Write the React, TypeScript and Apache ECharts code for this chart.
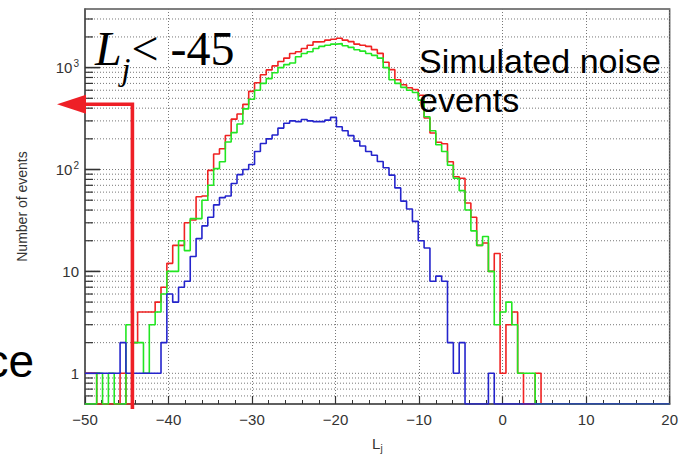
import React, { useEffect, useRef } from "react";
import * as echarts from "echarts";

// ---- data ----
const BIN_START = -50;
const BIN_WIDTH = 0.7;
const Y_MIN = 0.5;
const Y_MAX = 3760;

const redCounts = [
  1, 1, 0, 0, 0, 0, 1, 0, 2, 4,
  4, 4, 5, 7, 12, 18, 18, 30, 32, 54,
  55, 98, 142, 160, 216, 312, 350, 436, 585, 710,
  850, 950, 1040, 1150, 1240, 1375, 1430, 1540, 1660, 1790,
  1800, 1860, 1900, 1940, 1860, 1800, 1700, 1660, 1615, 1500,
  1380, 1130, 955, 760, 680, 635, 610, 535, 320, 228,
  185, 179, 119, 85, 82, 47, 34, 18, 19, 10,
  15, 1, 3, 4, 1, 0, 0, 1, 0, 0,
  0, 0, 0, 0, 0, 0, 0, 0, 0, 0,
  0, 0, 0, 0, 0, 0, 0, 0, 0, 0,
];

const greenCounts = [
  0, 0, 1, 0, 1, 0, 0, 3, 2, 2,
  1, 3, 4, 6, 10, 10, 20, 16, 33, 33,
  50, 70, 102, 119, 186, 230, 280, 394, 490, 600,
  700, 780, 890, 1000, 1070, 1110, 1280, 1375, 1430, 1540,
  1615, 1660, 1700, 1720, 1640, 1580, 1495, 1450, 1375, 1320,
  1240, 1000, 760, 700, 640, 600, 570, 480, 330, 240,
  175, 150, 110, 82, 62, 40, 25, 18, 22, 10,
  3, 4, 5, 3, 1, 1, 1, 0, 0, 0,
  0, 0, 0, 0, 0, 0, 0, 0, 0, 0,
  0, 0, 0, 0, 0, 0, 0, 0, 0, 0,
];

const blueCounts = [
  1, 1, 1, 1, 1, 1, 2, 1, 1, 1,
  1, 1, 1, 2, 6, 5, 7, 8, 14, 21,
  28, 34, 45, 53, 55, 73, 89, 100, 112, 150,
  180, 200, 218, 255, 284, 300, 295, 310, 300, 295,
  295, 305, 325, 263, 240, 215, 190, 170, 150, 138,
  120, 104, 88, 66, 49, 41, 31, 20, 17, 8,
  9, 8, 2, 1, 2, 0, 0, 0, 0, 1,
  0, 0, 0, 0, 0, 0, 0, 0, 0, 0,
  0, 0, 0, 0, 0, 0, 0, 0, 0, 0,
  0, 0, 0, 0, 0, 0, 0, 0, 0, 0,
];

const yGridValues = [
  0.6, 0.7, 0.8, 0.9,
  1, 2, 3, 4, 5, 6, 7, 8, 9,
  10, 20, 30, 40, 50, 60, 70, 80, 90,
  100, 200, 300, 400, 500, 600, 700, 800, 900,
  1000, 2000, 3000,
];

const yTickLabels: Record<number, string> = {
  1: "{b|1}",
  10: "{b|10}",
  100: "{b|10}{s|2}",
  1000: "{b|10}{s|3}",
};

const xTitle = "{l|L}{s|j}";
const yTitle = "Number of events";
const cutLabel = { main: "L", sub: "j", rest: "< -45" };
const noteLines = ["Simulated noise", "events"];
const leftFragment = "ce";

function histData(counts: number[]) {
  const pts: number[][] = counts.map((c, i) => [
    +(BIN_START + i * BIN_WIDTH).toFixed(3),
    c > 0 ? c : Y_MIN,
  ]);
  const last = counts[counts.length - 1];
  pts.push([+(BIN_START + counts.length * BIN_WIDTH).toFixed(3), last > 0 ? last : Y_MIN]);
  return pts;
}

const FONT = "'Liberation Sans', Arial, Helvetica, sans-serif";
const SERIF = "'Liberation Serif', 'Times New Roman', serif";
const ARROW_RED = "#ee1f26";
const LABEL = "#333";

export default function App() {
  const ref = useRef<HTMLDivElement>(null);

  useEffect(() => {
    if (!ref.current) return;
    const chart = echarts.init(ref.current, undefined, { renderer: "svg" });

    const histSeries = (name: string, counts: number[], color: string, z: number) => ({
      name,
      type: "line",
      step: "end",
      data: histData(counts),
      symbol: "none",
      lineStyle: { color, width: 1.6 },
      z,
      silent: true,
    });

    chart.setOption({
      animation: false,
      backgroundColor: "#ffffff",
      grid: {
        left: 85,
        right: 9,
        top: 9,
        bottom: 49,
        show: true,
        borderColor: "#555",
        borderWidth: 1.5,
        backgroundColor: "transparent",
      },
      xAxis: {
        type: "value",
        min: -50,
        max: 20,
        interval: 10,
        name: xTitle,
        nameLocation: "middle",
        nameGap: 29,
        nameTextStyle: {
          rich: {
            l: { fontSize: 15, fontFamily: FONT, color: LABEL },
            s: { fontSize: 10, fontFamily: FONT, color: LABEL, padding: [10, 0, 0, 0] },
          },
        },
        axisLine: { show: true, onZero: false, lineStyle: { color: "#555", width: 1.5 } },
        axisTick: { show: true, inside: true, length: 8, lineStyle: { color: "#333", width: 1.2 } },
        minorTick: { show: true, splitNumber: 5, length: 4, lineStyle: { color: "#333", width: 1 } },
        axisLabel: {
          fontSize: 15,
          fontFamily: FONT,
          color: LABEL,
          margin: 8,
          formatter: (v: number) => (v < 0 ? "\u2212" + Math.abs(v) : String(v)),
        },
        splitLine: { show: true, lineStyle: { color: "#777", width: 1, type: [1, 2] } },
      },
      yAxis: {
        type: "log",
        logBase: 10,
        min: Y_MIN,
        max: Y_MAX,
        name: yTitle,
        nameLocation: "middle",
        nameGap: 56,
        nameRotate: 90,
        nameTextStyle: { fontSize: 14, fontFamily: FONT, color: LABEL },
        axisLine: { show: true, onZero: false, lineStyle: { color: "#555", width: 1.5 } },
        axisTick: { show: false },
        splitLine: { show: false },
        axisLabel: {
          margin: 6,
          showMinLabel: false,
          showMaxLabel: false,
          formatter: (v: number) => yTickLabels[Math.round(v)] ?? "",
          rich: {
            b: { fontSize: 15, fontFamily: FONT, color: LABEL },
            s: { fontSize: 10, fontFamily: FONT, color: LABEL, padding: [0, 0, 9, 1] },
          },
        },
      },
      series: [
        {
          type: "custom",
          silent: true,
          z: 1,
          data: yGridValues.map((v) => [BIN_START, v]),
          renderItem: (params: any, api: any) => {
            const v = api.value(1);
            const p = api.coord([api.value(0), v]);
            const cs = params.coordSys;
            const lg = Math.log10(v);
            const major = Math.abs(lg - Math.round(lg)) < 1e-6;
            return {
              type: "group",
              children: [
                {
                  type: "line",
                  shape: { x1: cs.x, y1: p[1], x2: cs.x + cs.width, y2: p[1] },
                  style: { stroke: "#777", lineWidth: 1, lineDash: [1, 2] },
                },
                {
                  type: "line",
                  shape: { x1: cs.x, y1: p[1], x2: cs.x + (major ? 15 : 8), y2: p[1] },
                  style: { stroke: "#333", lineWidth: major ? 1.6 : 1.2 },
                },
              ],
            };
          },
        },
        histSeries("red", redCounts, "#f02222", 3),
        histSeries("green", greenCounts, "#22e622", 4),
        histSeries("blue", blueCounts, "#2424cc", 5),
      ],
      graphic: [
        {
          type: "polygon",
          z: 100,
          shape: { points: [[57, 104.3], [86, 94.8], [86, 113.8]] },
          style: { fill: ARROW_RED },
        },
        {
          type: "polyline",
          z: 100,
          shape: { points: [[85, 104.3], [132.4, 104.3], [132.4, 409]] },
          style: { stroke: ARROW_RED, lineWidth: 3.6, fill: null },
        },
        {
          type: "text",
          z: 100,
          x: 95,
          y: 48.5,
          style: {
            text: cutLabel.main,
            font: `italic 48px ${SERIF}`,
            fill: "#000",
            align: "left",
            verticalAlign: "middle",
          },
        },
        {
          type: "text",
          z: 100,
          x: 121.5,
          y: 69,
          style: {
            text: cutLabel.sub,
            font: `italic 32px ${SERIF}`,
            fill: "#000",
            align: "left",
            verticalAlign: "middle",
          },
        },
        {
          type: "text",
          z: 100,
          x: 131.5,
          y: 48.5,
          style: {
            text: cutLabel.rest,
            font: `48px ${SERIF}`,
            fill: "#000",
            align: "left",
            verticalAlign: "middle",
          },
        },
        {
          type: "text",
          z: 100,
          x: 419,
          y: 61,
          style: {
            text: noteLines[0],
            font: `34px ${FONT}`,
            fill: "#000",
            align: "left",
            verticalAlign: "middle",
          },
        },
        {
          type: "text",
          z: 100,
          x: 419,
          y: 100,
          style: {
            text: noteLines[1],
            font: `34px ${FONT}`,
            fill: "#000",
            align: "left",
            verticalAlign: "middle",
          },
        },
        {
          type: "text",
          z: 100,
          x: 34,
          y: 361,
          style: {
            text: leftFragment,
            font: `46px ${FONT}`,
            fill: "#000",
            align: "right",
            verticalAlign: "middle",
          },
        },
      ],
    });

    return () => chart.dispose();
  }, []);

  return (
    <div
      ref={ref}
      style={{ position: "fixed", left: 0, top: 0, width: 681, height: 458, background: "#fff" }}
    />
  );
}
